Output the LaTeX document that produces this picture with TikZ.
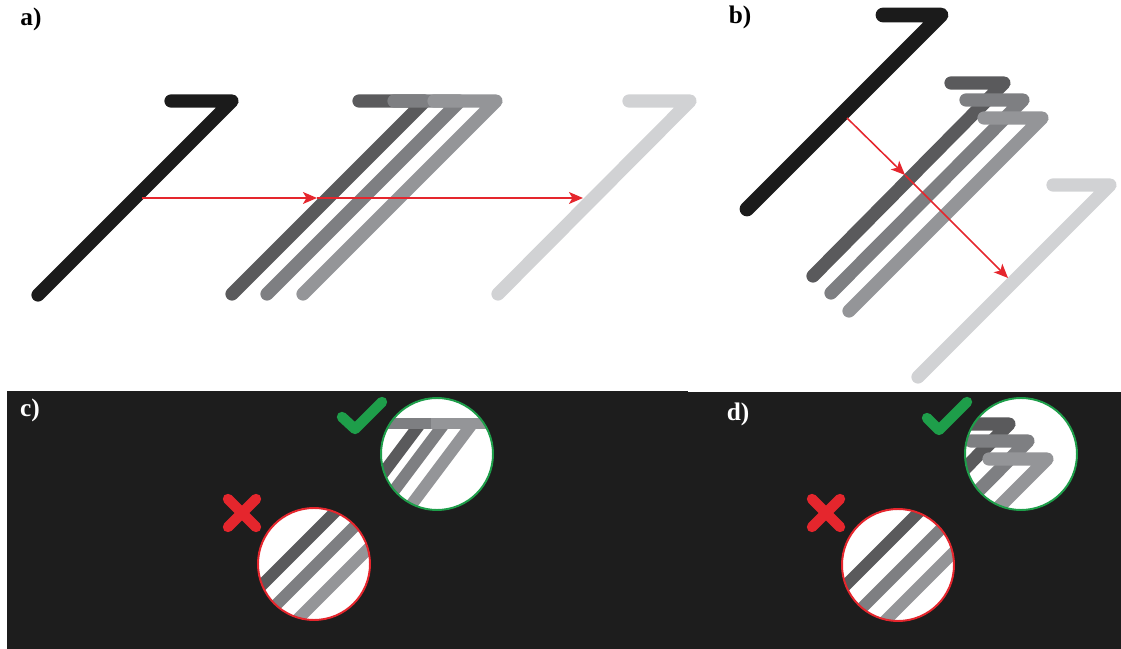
\documentclass[tikz,border=0pt]{standalone}
\usepackage{fontspec}
\setmainfont{Liberation Serif}
\usepackage{tikz}
\usetikzlibrary{arrows.meta}
\definecolor{InkBlack}{HTML}{1B1B1B}
\definecolor{InkDark}{HTML}{5A5A5C}
\definecolor{InkMid}{HTML}{7E7F82}
\definecolor{InkLight}{HTML}{949598}
\definecolor{InkPale}{HTML}{D1D2D4}
\definecolor{MarkRed}{HTML}{E5262D}
\definecolor{MarkGreen}{HTML}{1E9E4A}
\definecolor{PanelDark}{HTML}{1D1D1D}
\tikzset{
  glyph/.style={line width=9.4pt, line cap=round, line join=round},
  heavyglyph/.style={glyph, line width=10.5pt},
  stripe/.style={line width=8.5pt},
  barstripe/.style={line width=7.8pt},
  motion/.style={draw=MarkRed, line width=1.1pt,
    -{Stealth[length=10pt, width=8.5pt, inset=2.5pt]}},
  verdict/.style={line width=7.4pt, line cap=round, line join=round},
  lens/.style={fill=white, line width=1.4pt},
  panellabel/.style={font=\fontsize{18}{20}\selectfont\bfseries, inner sep=0pt},
  panelbg/.style={fill=PanelDark, draw=none}
}

\begin{document}
\begin{tikzpicture}[x=0.025cm, y=-0.025cm]
  \useasboundingbox (0,0) rectangle (1121,649);

  % a) sideways step
  \node[panellabel] (lab-a) at (31,19) {a)};
  \draw[glyph, draw=InkBlack] (171,101) -- (232,101) -- (38,295);
  \draw[glyph, draw=InkDark] (359,101) -- (425,101) -- (232,294);
  \draw[glyph, draw=InkMid] (394,101) -- (460,101) -- (267,294);
  \draw[glyph, draw=InkLight] (434,101) -- (496,101) -- (303,294);
  \draw[glyph, draw=InkPale] (629,101) -- (690,101) -- (498,294);
  \coordinate (a-from) at (142,198);
  \coordinate (a-via) at (317,198);
  \coordinate (a-to) at (583,198);
  \draw[motion] (a-from) -- (a-via);
  \draw[motion] (a-via) -- (a-to);

  % b) step across the stroke
  \node[panellabel] (lab-b) at (740,17) {b)};
  \draw[heavyglyph, draw=InkBlack] (883,15) -- (941,15) -- (747,209);
  \draw[glyph, draw=InkDark] (951,83) -- (1004,83) -- (813,276);
  \draw[glyph, draw=InkMid] (966,100) -- (1023,100) -- (831,293);
  \draw[glyph, draw=InkLight] (984,118) -- (1042,118) -- (849,311);
  \draw[glyph, draw=InkPale] (1053,185) -- (1110,185) -- (918,377);
  \coordinate (b-from) at (847,118);
  \coordinate (b-via) at (905,175);
  \coordinate (b-to) at (1008,278);
  \draw[motion] (b-from) -- (b-via);
  \draw[motion] (b-via) -- (b-to);

  % c)
  \fill[panelbg] (7,391) rectangle (688,649);
  \node[panellabel, text=white] (lab-c) at (30,410) {c)};
  \draw[verdict, draw=MarkGreen] (342,417) -- (355,429) -- (382,402);
  \fill[white] (437,454) circle (56);
  \begin{scope}
    \clip (437,454) circle (56);
    \draw[stripe, draw=InkDark] (420,424) -- (348,520);
    \draw[stripe, draw=InkMid] (444,424) -- (372,520);
    \draw[stripe, draw=InkLight] (472,424) -- (400,520);
    \draw[barstripe, draw=InkMid] (370,423.5) -- (431,423.5);
    \draw[barstripe, draw=InkLight] (431,423.5) -- (500,423.5);
  \end{scope}
  \draw[lens, fill=none, draw=MarkGreen] (437,454) circle (56);
  \draw[verdict, draw=MarkRed] (228,499) -- (256,527);
  \draw[verdict, draw=MarkRed] (228,527) -- (256,499);
  \fill[white] (314,564) circle (56);
  \begin{scope}
    \clip (314,564) circle (56);
    \draw[stripe, draw=InkDark] (207,640) -- (357,490);
    \draw[stripe, draw=InkMid] (241,640) -- (391,490);
    \draw[stripe, draw=InkLight] (277,640) -- (427,490);
  \end{scope}
  \draw[lens, fill=none, draw=MarkRed] (314,564) circle (56);

  % d)
  \fill[panelbg] (688,392) rectangle (1121,649);
  \node[panellabel, text=white] (lab-d) at (738,414) {d)};
  \draw[verdict, draw=MarkGreen] (927,418) -- (939,430) -- (967,402);
  \fill[white] (1021,454) circle (56);
  \begin{scope}
    \clip (1021,454) circle (56);
    \draw[glyph, draw=InkDark] (956,424) -- (1009,424) -- (818,617);
    \draw[glyph, draw=InkMid] (971,441) -- (1028,441) -- (836,634);
    \draw[glyph, draw=InkLight] (989,459) -- (1047,459) -- (854,652);
  \end{scope}
  \draw[lens, fill=none, draw=MarkGreen] (1021,454) circle (56);
  \draw[verdict, draw=MarkRed] (812,499) -- (840,527);
  \draw[verdict, draw=MarkRed] (812,527) -- (840,499);
  \fill[white] (898,565) circle (56);
  \begin{scope}
    \clip (898,565) circle (56);
    \draw[stripe, draw=InkDark] (791,640) -- (951,480);
    \draw[stripe, draw=InkMid] (830,640) -- (990,480);
    \draw[stripe, draw=InkLight] (866,640) -- (1026,480);
  \end{scope}
  \draw[lens, fill=none, draw=MarkRed] (898,565) circle (56);
\end{tikzpicture}
\end{document}
